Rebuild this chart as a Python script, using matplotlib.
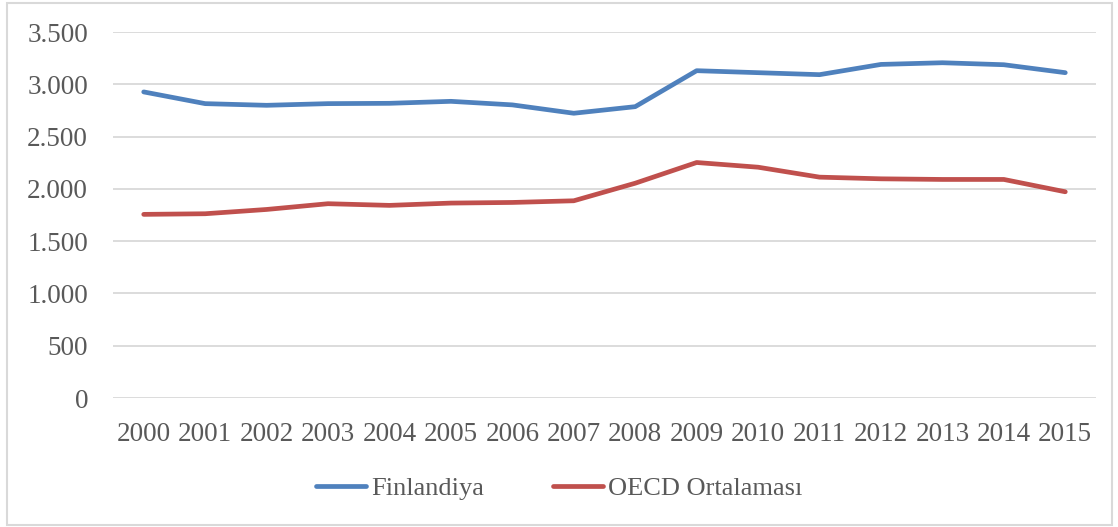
import matplotlib.pyplot as plt
from matplotlib.patches import Rectangle
from matplotlib.ticker import FuncFormatter

years = [str(y) for y in range(2000, 2016)]
finlandiya = [2927, 2815, 2799, 2815, 2818, 2837, 2803, 2723, 2786, 3130,
              3111, 3092, 3190, 3206, 3187, 3111]
oecd = [1756, 1762, 1803, 1858, 1842, 1864, 1870, 1886, 2054, 2252,
        2207, 2112, 2096, 2090, 2090, 1972]

plt.rcParams['font.family'] = ['Liberation Serif', 'DejaVu Serif']
txt = '#595959'
grid = '#D9D9D9'

fig = plt.figure(figsize=(11.18, 5.27), dpi=100)
ax = fig.add_axes([113 / 1118, 1 - 398 / 527, (1096 - 113) / 1118, (398 - 32) / 527])

x = range(len(years))
ax.plot(x, finlandiya, color='#4F81BD', lw=3.4, solid_capstyle='round',
        solid_joinstyle='round', label='Finlandiya')
ax.plot(x, oecd, color='#C0504D', lw=3.4, solid_capstyle='round',
        solid_joinstyle='round', label='OECD Ortalaması')

ax.set_xlim(-0.5, len(years) - 0.5)
ax.set_ylim(0, 3500)
ax.set_yticks(range(0, 3501, 500))
ax.yaxis.set_major_formatter(FuncFormatter(lambda v, p: f"{int(v):,}".replace(",", ".")))
ax.set_xticks(list(x))
ax.set_xticklabels(years)
ax.grid(axis='y', color=grid, lw=1.3)
ax.set_axisbelow(True)
for s in ax.spines.values():
    s.set_visible(False)
ax.tick_params(axis='both', length=0, labelsize=19.5, colors=txt)
ax.tick_params(axis='y', pad=18)
ax.tick_params(axis='x', pad=17)

leg = fig.legend(loc='center', bbox_to_anchor=(0.5, 1 - 488 / 527), ncol=2,
                 frameon=False, fontsize=19, handlelength=1.9, handletextpad=0.2,
                 columnspacing=2.6)
for t in leg.get_texts():
    t.set_color(txt)

fig.patches.append(Rectangle((7 / 1118, 2 / 527), 1105 / 1118, 522 / 527,
                             transform=fig.transFigure, fill=False,
                             edgecolor=grid, lw=1.5))

fig.savefig('out.png', dpi=100)
